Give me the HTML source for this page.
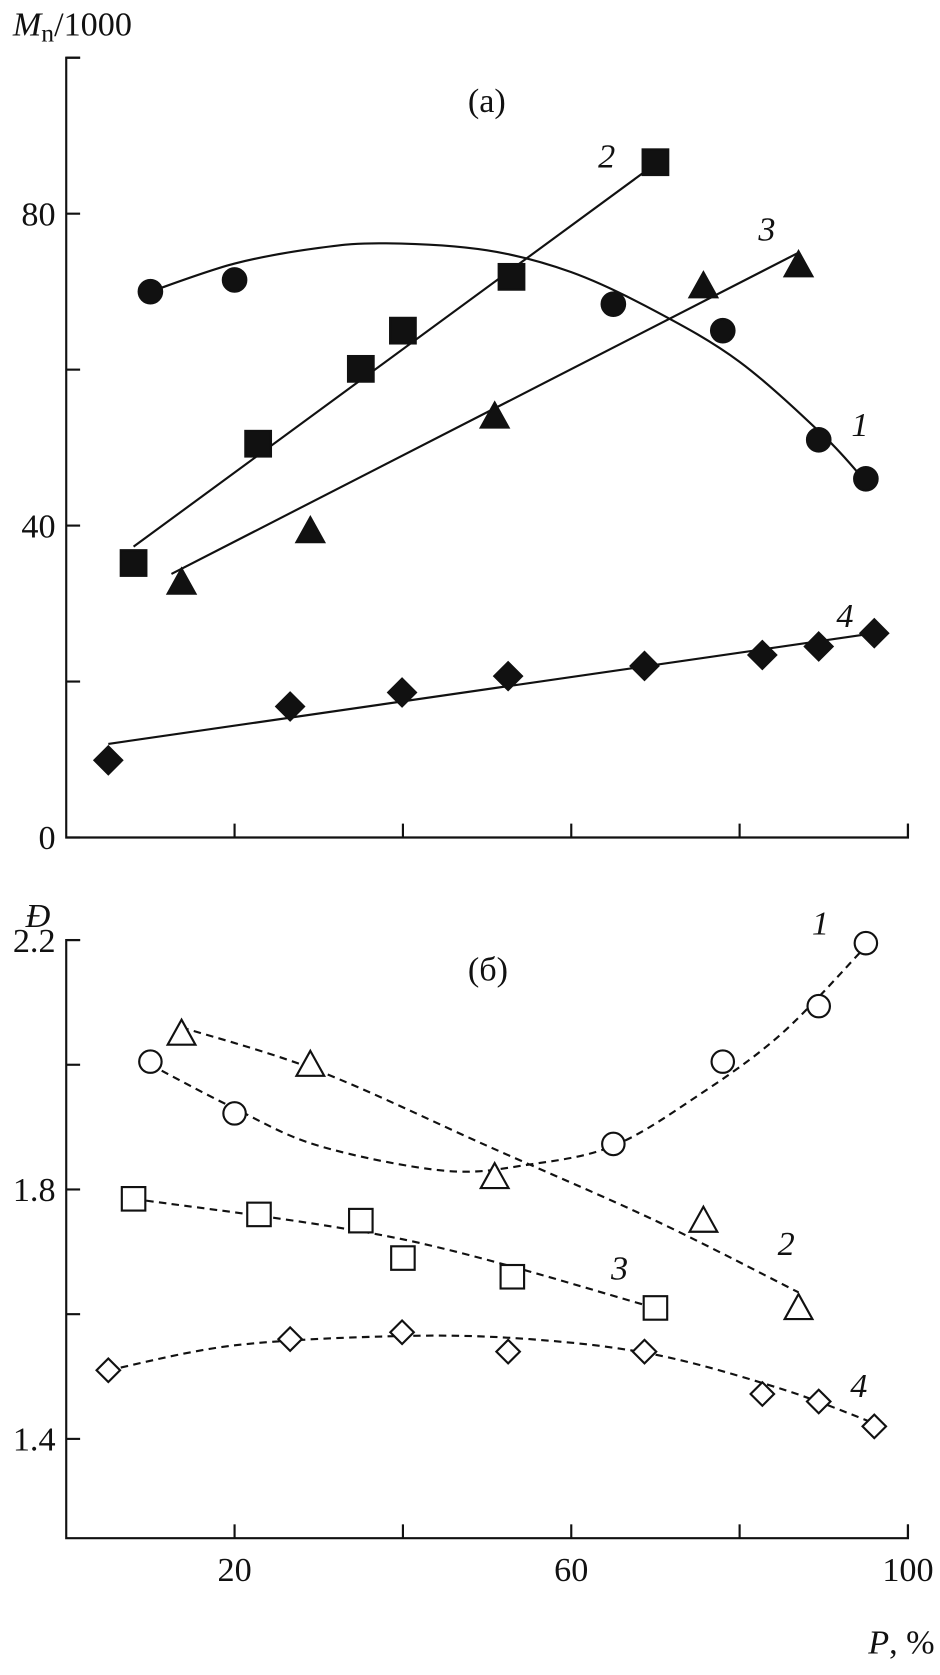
<!DOCTYPE html>
<html><head><meta charset="utf-8"><style>
html,body{margin:0;padding:0;background:#fff;}
svg{display:block;}
text{font-family:"Liberation Serif",serif;fill:#111;}
</style></head><body>
<svg id="chart" width="940" height="1675" viewBox="0 0 880 1568" xmlns="http://www.w3.org/2000/svg">
<g id="gtop"></g>
<g id="gbot"></g>
</svg>
<script>
// Panel (a): Mn/1000 vs P
const aS1x=[10,20,65,78,89.4,95], aS1y=[70,71.5,68.4,65,51,46];
const aS2x=[8,22.8,35,40,52.9,70], aS2y=[35.2,50.5,60.1,65,71.9,86.6];
const aS3x=[13.7,29,50.9,75.7,87], aS3y=[32.7,39.3,54,70.7,73.4];
const aS4x=[5,26.6,39.9,52.5,68.7,82.7,89.4,96], aS4y=[9.9,16.8,18.6,20.7,22,23.4,24.5,26.2];
const aF1x=[10,20,30,38,50,60,70,80,90,95], aF1y=[70,73.6,75.6,76.2,75.3,72.5,67.5,61,51.5,45.6];
const aF2x=[8,68.5], aF2y=[37.3,85.2];
const aF3x=[12.5,87], aF3y=[33.8,75];
const aF4x=[5,96], aF4y=[12,26.2];
// Panel (b): dispersity vs P
const bS1x=[10,20,65,78,89.4,95], bS1y=[2.005,1.922,1.873,2.005,2.094,2.195];
const bS2x=[13.7,29,50.9,75.7,87], bS2y=[2.05,2.0,1.82,1.75,1.61];
const bS3x=[8,22.9,35,40,53,70], bS3y=[1.785,1.76,1.75,1.69,1.66,1.61];
const bS4x=[5,26.6,39.9,52.5,68.7,82.7,89.4,96], bS4y=[1.51,1.56,1.571,1.54,1.54,1.472,1.46,1.42];
const bF1x=[10,20,30,45,55,65,75,85,95], bF1y=[2.0,1.93,1.87,1.83,1.84,1.87,1.95,2.05,2.19];
const bF2x=[13.7,30,50,70,87], bF2y=[2.06,1.99,1.87,1.75,1.635];
const bF3x=[8,40,70], bF3y=[1.785,1.72,1.61];
const bF4x=[5,20,40,55,70,85,96], bF4y=[1.51,1.55,1.565,1.56,1.535,1.48,1.425];
const xTicks=[20,40,60,80,100], xLabels=["20","60","100"], xLabelVals=[20,60,100];
const aTicks=[0,20,40,60,80,100], aLabels=["0","40","80"], aLabelVals=[0,40,80];
const bTicks=[1.4,1.6,1.8,2.0,2.2], bLabels=["1.4","1.8","2.2"], bLabelVals=[1.4,1.8,2.2];

const NS="http://www.w3.org/2000/svg";
const X0=62, X1=850;
const sx=v=>X0+(v/100)*(X1-X0);
const syA=v=>784-v*7.3;
const syB=v=>880+(2.2-v)*583.75;
function mk(parent,tag,attrs){const e=document.createElementNS(NS,tag);for(const k in attrs)e.setAttribute(k,attrs[k]);parent.appendChild(e);return e;}
function smooth(xs,ys,sy){const p=xs.map((x,i)=>[sx(x),sy(ys[i])]);if(p.length<3)return "M"+p.map(q=>q.join(",")).join(" L");let d="M"+p[0].join(",");for(let i=0;i<p.length-1;i++){const p0=p[i-1]||p[i],p1=p[i],p2=p[i+1],p3=p[i+2]||p2;const c1=[p1[0]+(p2[0]-p0[0])/6,p1[1]+(p2[1]-p0[1])/6],c2=[p2[0]-(p3[0]-p1[0])/6,p2[1]-(p3[1]-p1[1])/6];d+=` C${c1} ${c2} ${p2}`;}return d;}
function marker(g,type,cx,cy,filled){const f=filled?"#111":"#fff";let e;
 if(type==="c"){e=mk(g,"circle",{cx,cy,r:filled?11:10.5,fill:f,stroke:"#111","stroke-width":2});}
 else if(type==="s"){const h=filled?12:11;e=mk(g,"rect",{x:cx-h,y:cy-h,width:2*h,height:2*h,fill:f,stroke:"#111","stroke-width":2});}
 else if(type==="t"){const h=13;e=mk(g,"polygon",{points:`${cx},${cy-h} ${cx+h},${cy+h*0.8} ${cx-h},${cy+h*0.8}`,fill:f,stroke:"#111","stroke-width":2});}
 else {const h=filled?13:11;e=mk(g,"polygon",{points:`${cx},${cy-h} ${cx+h},${cy} ${cx},${cy+h} ${cx-h},${cy}`,fill:f,stroke:"#111","stroke-width":2});}
 
 }
function txt(g,x,y,s,opts){const t=mk(g,"text",Object.assign({x,y,"font-size":32},opts||{}));t.textContent=s;return t;}
function panel(g,sy,ytop,bottom,yT,yL,yLV,series,fits,dash,name){
 const ax=mk(g,"path",{d:`M${X0+13},${ytop} L${X0},${ytop} L${X0},${bottom} L${X1},${bottom} L${X1},${bottom-13}`,fill:"none",stroke:"#111","stroke-width":2});
 
 
 yT.forEach(v=>{const t=mk(g,"line",{x1:X0,x2:X0+13,y1:sy(v),y2:sy(v),stroke:"#111","stroke-width":2});
  
  });
 yL.forEach((s,i)=>{const t=txt(g,X0-10,sy(yLV[i])+11,s,{"text-anchor":"end"});
  
  });
 xTicks.forEach(v=>{const t=mk(g,"line",{x1:sx(v),x2:sx(v),y1:bottom,y2:bottom-13,stroke:"#111","stroke-width":2});
  
  });
 fits.forEach(f=>{const p=mk(g,"path",{d:smooth(f[0],f[1],sy),fill:"none",stroke:"#111","stroke-width":2,"stroke-dasharray":dash?"7,5":"none"});
  
  });
 series.forEach(s=>s[0].forEach((x,i)=>marker(g,s[2],sx(x),sy(s[1][i]),!dash)));
}
const gTop=document.getElementById("gtop"), gBot=document.getElementById("gbot");
panel(gTop,syA,54,784,aTicks,aLabels,aLabelVals,[[aS1x,aS1y,"c"],[aS2x,aS2y,"s"],[aS3x,aS3y,"t"],[aS4x,aS4y,"d"]],[[aF1x,aF1y],[aF2x,aF2y],[aF3x,aF3y],[aF4x,aF4y]],false,"panel-a");
panel(gBot,syB,syB(2.2),1440,bTicks,bLabels,bLabelVals,[[bS1x,bS1y,"c"],[bS2x,bS2y,"t"],[bS3x,bS3y,"s"],[bS4x,bS4y,"d"]],[[bF1x,bF1y],[bF2x,bF2y],[bF3x,bF3y],[bF4x,bF4y]],true,"panel-b");
xLabels.forEach((s,i)=>{const t=txt(gBot,sx(xLabelVals[i]),1480,s,{"text-anchor":"middle"});
 
 });
</script>
<script>
const sv=document.getElementById("chart");
function L(x,y,s,name,it,anchor){const t=document.createElementNS("http://www.w3.org/2000/svg","text");t.setAttribute("x",x);t.setAttribute("y",y);t.setAttribute("font-size",32);if(it)t.setAttribute("font-style","italic");if(anchor)t.setAttribute("text-anchor",anchor);t.innerHTML=s;
 
 
 sv.appendChild(t);}
L(12,33,'<tspan font-style="italic">M</tspan><tspan font-size="24" dy="6">n</tspan><tspan dy="-6">/1000</tspan>','y-axis-title-a',false);
L(438,105,'(a)','panel-a-title',false);
L(560,157,'2','label-series-2',true);
L(710,225,'3','label-series-3',true);
L(797,408,'1','label-series-1',true);
L(783,587,'4','label-series-4',true);
L(24,868,'Đ','y-axis-title-b',true);
L(438,918,'(б)','panel-b-title',false);
L(760,875,'1','label-series-1b',true);
L(728,1175,'2','label-series-2b',true);
L(572,1198,'3','label-series-3b',true);
L(796,1308,'4','label-series-4b',true);
L(875,1548,'<tspan font-style="italic">P</tspan>, %','x-axis-title',false,'end');
</script>
</body></html>
